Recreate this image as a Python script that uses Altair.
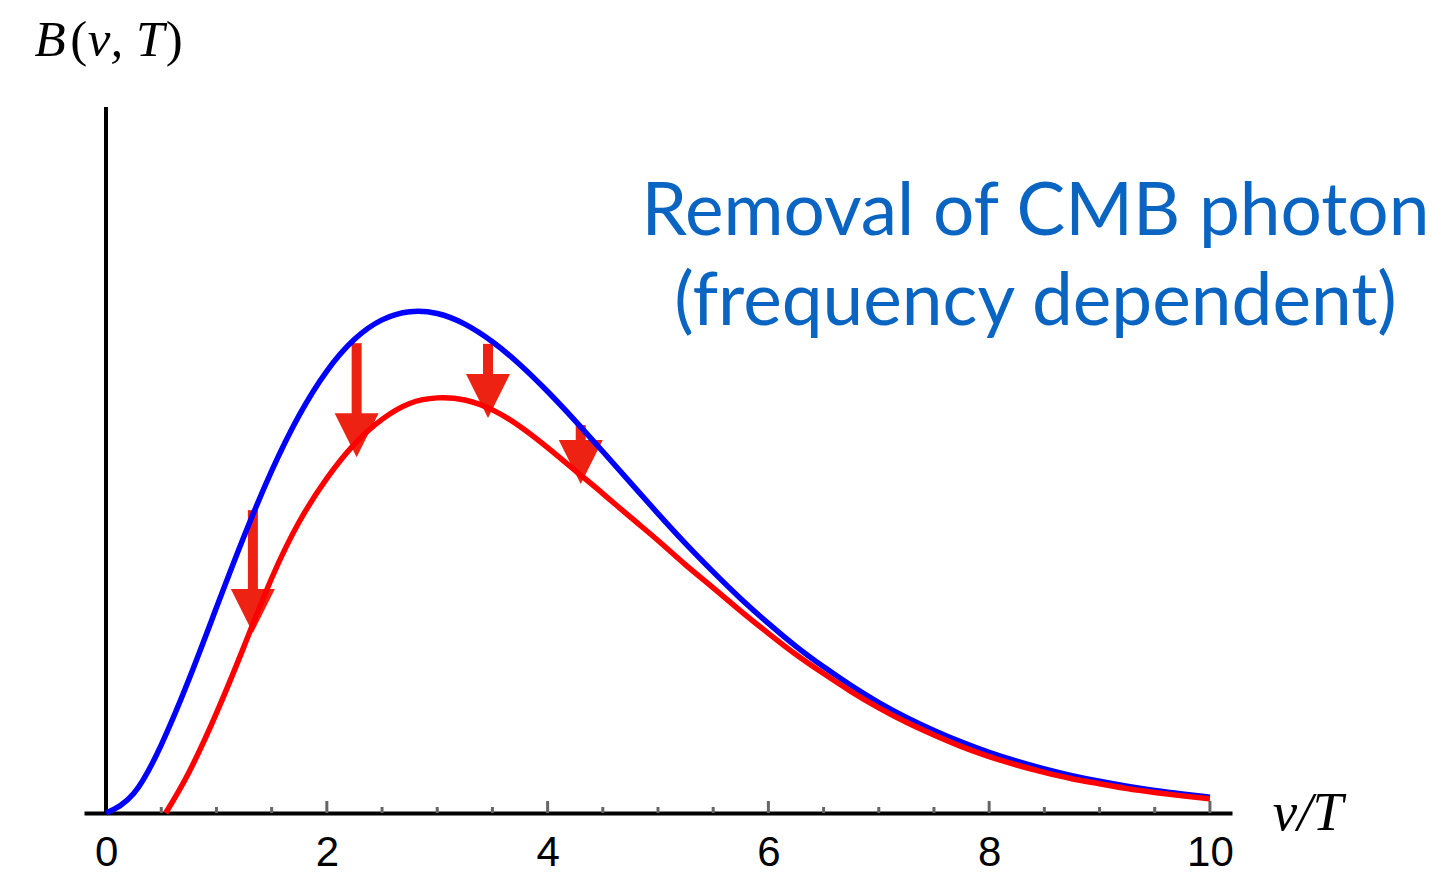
import altair as alt
import pandas as pd

# Planck spectrum B(nu, T) against nu/T, before (blue) and after (red)
nu_blue = [0, 0.25, 0.5, 0.75, 1.0, 1.25, 1.5, 1.75, 2.0, 2.25, 2.5, 2.75,
           3.0, 3.25, 3.5, 3.75, 4.0, 4.25, 4.5, 4.75, 5.0, 5.25, 5.5, 5.75,
           6.0, 6.25, 6.5, 6.75, 7.0, 7.25, 7.5, 7.75, 8.0, 8.25, 8.5, 8.75,
           9.0, 9.25, 9.5, 9.75, 10.0]
b_blue = [0, 0.055, 0.193, 0.378, 0.582, 0.784, 0.969, 1.127, 1.252, 1.342,
          1.397, 1.420, 1.415, 1.385, 1.335, 1.270, 1.194, 1.111, 1.024, 0.936,
          0.848, 0.763, 0.683, 0.607, 0.537, 0.472, 0.414, 0.361, 0.313, 0.271,
          0.234, 0.201, 0.172, 0.147, 0.125, 0.106, 0.090, 0.076, 0.064, 0.054,
          0.045]

nu_red = [0.54, 0.75, 1.0, 1.25, 1.5, 1.75, 2.0, 2.25, 2.5, 2.75, 3.0, 3.25,
          3.5, 3.75, 4.0, 4.25, 4.5, 4.75, 5.0, 5.25, 5.5, 5.75, 6.0, 6.25,
          6.5, 6.75, 7.0, 7.25, 7.5, 7.75, 8.0, 8.25, 8.5, 8.75, 9.0, 9.25,
          9.5, 9.75, 10.0]
b_red = [0, 0.115, 0.283, 0.472, 0.665, 0.825, 0.948, 1.045, 1.115, 1.160,
         1.176, 1.170, 1.142, 1.095, 1.035, 0.970, 0.905, 0.838, 0.772, 0.703,
         0.638, 0.572, 0.509, 0.449, 0.395, 0.344, 0.298, 0.257, 0.221, 0.188,
         0.160, 0.136, 0.115, 0.097, 0.083, 0.069, 0.058, 0.0485, 0.040]

# Downward arrows: where each starts (on the blue curve) and where it points
arrow_nu = [1.33, 2.27, 3.46, 4.30]
arrow_top = [0.858, 1.331, 1.329, 1.099]
arrow_tip = [0.510, 1.008, 1.119, 0.932]

major_ticks = [2, 4, 6, 8, 10]
minor_ticks = [0.5, 1, 1.5, 2.5, 3, 3.5, 4.5, 5, 5.5, 6.5, 7, 7.5, 8.5, 9, 9.5]
tick_labels = [0, 2, 4, 6, 8, 10]

note_lines = ["Removal of CMB photon", "(frequency dependent)"]
note_y = [1.637, 1.382]
note_nu = 8.42

# pieces of the vertical-axis label: italic symbols and upright brackets
ytitle_italic = ["B", "ν, T"]
ytitle_italic_nu = [-0.648, -0.165]
ytitle_upright = ["(", ")"]
ytitle_upright_nu = [-0.325, 0.54]

BLUE = "#0000ff"
RED = "#ff0000"
ARROW = "#ed2212"
NOTE = "#0a64c2"
SERIF = "Liberation Serif"

x_scale = alt.Scale(domain=[-0.2, 10.2], nice=False, zero=False)
y_scale = alt.Scale(domain=[0, 2.0], nice=False, zero=False)

blue_df = pd.DataFrame({"nu": nu_blue, "B": b_blue})
red_df = pd.DataFrame({"nu": nu_red, "B": b_red})
arrow_df = pd.DataFrame({"nu": arrow_nu, "top": arrow_top, "tip": arrow_tip})
major_df = pd.DataFrame({"nu": major_ticks})
minor_df = pd.DataFrame({"nu": minor_ticks})
note_df = pd.DataFrame({"text": note_lines, "y": note_y, "nu": [note_nu] * 2})
yt_it_df = pd.DataFrame({"text": ytitle_italic, "nu": ytitle_italic_nu})
yt_up_df = pd.DataFrame({"text": ytitle_upright, "nu": ytitle_upright_nu})

x_axis = alt.Axis(
    values=tick_labels, format="d", grid=False, ticks=False, title=None,
    domain=True, domainColor="black", domainWidth=4,
    labelFont="Liberation Sans", labelFontSize=42, labelColor="black",
    labelPadding=19,
)

# x axis with its labels (drawn through the shared scale)
base_axis = alt.Chart(major_df).mark_point(opacity=0).encode(
    x=alt.X("nu:Q", scale=x_scale, axis=x_axis),
    y=alt.Y("nu:Q", scale=y_scale, axis=None),
)

major_rules = alt.Chart(major_df).mark_rule(
    color="#666666", strokeWidth=3, y2Offset=-12
).encode(x=alt.X("nu:Q", scale=x_scale), y=alt.datum(0), y2=alt.datum(0))

minor_rules = alt.Chart(minor_df).mark_rule(
    color="#666666", strokeWidth=3, y2Offset=-6
).encode(x=alt.X("nu:Q", scale=x_scale), y=alt.datum(0), y2=alt.datum(0))

y_line = alt.Chart(major_df).mark_rule(color="black", strokeWidth=3.5).encode(
    x=alt.datum(0), y=alt.datum(0), y2=alt.datum(2.0)
)

shafts = alt.Chart(arrow_df).mark_rule(
    color=ARROW, strokeWidth=10, strokeCap="butt", y2Offset=-38
).encode(x=alt.X("nu:Q", scale=x_scale), y=alt.Y("top:Q", scale=y_scale), y2="tip:Q")

heads = alt.Chart(arrow_df).mark_point(
    shape="M-1,-2L1,-2L0,0Z", size=1936, filled=True, color=ARROW,
    opacity=1, strokeWidth=0,
).encode(x=alt.X("nu:Q", scale=x_scale), y=alt.Y("tip:Q", scale=y_scale))

blue_line = alt.Chart(blue_df).mark_line(
    color=BLUE, strokeWidth=5.5, interpolate="natural"
).encode(x=alt.X("nu:Q", scale=x_scale), y=alt.Y("B:Q", scale=y_scale))

red_line = alt.Chart(red_df).mark_line(
    color=RED, strokeWidth=5.5, interpolate="natural"
).encode(x=alt.X("nu:Q", scale=x_scale), y=alt.Y("B:Q", scale=y_scale))

note = alt.Chart(note_df).mark_text(
    font="Lato", fontSize=73, color=NOTE, align="center", baseline="alphabetic",
).encode(x=alt.X("nu:Q", scale=x_scale), y=alt.Y("y:Q", scale=y_scale), text="text:N")

y_title_it = alt.Chart(yt_it_df).mark_text(
    font=SERIF, fontSize=51, fontStyle="italic", align="left",
    baseline="alphabetic", color="black",
).encode(x=alt.X("nu:Q", scale=x_scale), y=alt.datum(2.145), text="text:N")

y_title_up = alt.Chart(yt_up_df).mark_text(
    font=SERIF, fontSize=51, align="left", baseline="alphabetic", color="black",
).encode(x=alt.X("nu:Q", scale=x_scale), y=alt.datum(2.145), text="text:N")

x_title = alt.Chart(major_df.head(1)).mark_text(
    text="ν/T", font=SERIF, fontStyle="italic", fontSize=55,
    align="left", baseline="alphabetic", color="black",
).encode(x=alt.datum(10.57), y=alt.datum(-0.048))

chart = alt.layer(
    base_axis, major_rules, minor_rules, y_line, shafts, heads,
    blue_line, red_line, note, y_title_it, y_title_up, x_title,
).properties(
    width=1148, height=706,
    autosize=alt.AutoSizeParams(type="none"),
    padding={"left": 84, "top": 107, "right": 213, "bottom": 61},
    background="white",
).configure_view(stroke=None)

chart.save("out.html", embed_options={"renderer": "svg", "actions": False})
